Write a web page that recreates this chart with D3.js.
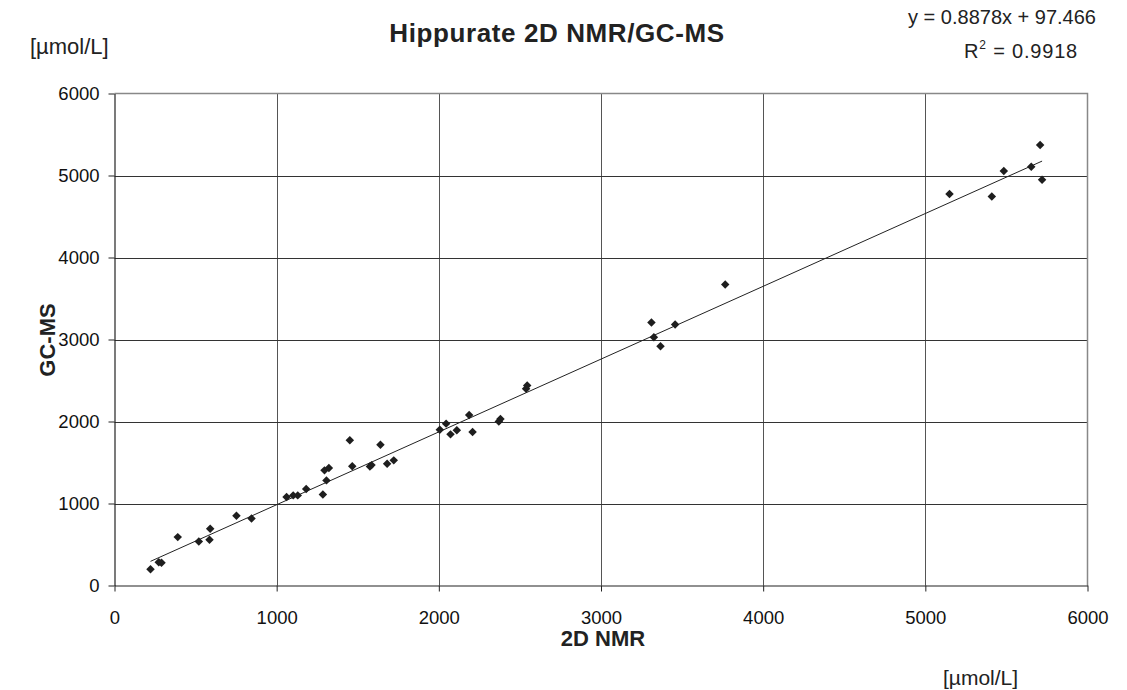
<!DOCTYPE html>
<html>
<head>
<meta charset="utf-8">
<script src="https://cdn.jsdelivr.net/npm/d3@7/dist/d3.min.js"></script>
<style>
  html, body { margin: 0; padding: 0; background: #fff; }
  svg { display: block; font-family: "Liberation Sans", Arial, sans-serif; }
</style>
</head>
<body>
<svg id="chart" width="1127" height="690"></svg>
<script>
// Hippurate concentrations: 2D NMR (x) vs GC-MS (y), µmol/L
const nmr = [222, 273, 290, 390, 520, 586, 590, 752, 845, 1061, 1102, 1130, 1182, 1285,
  1295, 1322, 1307, 1451, 1466, 1575, 1585, 1640, 1681, 1722, 2006, 2045, 2072, 2111,
  2187, 2208, 2370, 2380, 2538, 2545, 3311, 3326, 3367, 3457, 3766, 5149, 5410, 5484,
  5653, 5708, 5720];
const gcms = [199, 284, 277, 590, 537, 558, 692, 851, 818, 1078, 1099, 1099, 1176, 1111,
  1404, 1432, 1282, 1770, 1453, 1450, 1468, 1717, 1485, 1526, 1900, 1974, 1843, 1892,
  2079, 1871, 2000, 2030, 2400, 2440, 3207, 3027, 2917, 3182, 3670, 4773, 4745, 5054,
  5107, 5371, 4948];

// Linear trend line
const slope = 0.8878;
const intercept = 97.466;
const rSquared = 0.9918;

const xTicks = [0, 1000, 2000, 3000, 4000, 5000, 6000];
const yTicks = [0, 1000, 2000, 3000, 4000, 5000, 6000];

const svg = d3.select("#chart");
const plot = { left: 114.5, right: 1087.5, top: 93.5, bottom: 585.5 };

const x = d3.scaleLinear().domain([0, 6000]).range([plot.left, plot.right]);
const y = d3.scaleLinear().domain([0, 6000]).range([plot.bottom, plot.top]);

// Gridlines
svg.append("g").selectAll("line.v").data(xTicks.slice(1, -1)).join("line")
  .attr("x1", d => Math.round(x(d)) + 0.5).attr("x2", d => Math.round(x(d)) + 0.5)
  .attr("y1", plot.top).attr("y2", plot.bottom)
  .attr("stroke", "#555").attr("stroke-width", 1);
svg.append("g").selectAll("line.h").data(yTicks.slice(1, -1)).join("line")
  .attr("y1", d => Math.round(y(d)) + 0.5).attr("y2", d => Math.round(y(d)) + 0.5)
  .attr("x1", plot.left).attr("x2", plot.right)
  .attr("stroke", "#333").attr("stroke-width", 1);

// Plot frame (top and right)
svg.append("path")
  .attr("d", `M${plot.left},${plot.top}H${plot.right}V${plot.bottom}`)
  .attr("fill", "none").attr("stroke", "#888").attr("stroke-width", 1.5);

// Axes
const xAxis = svg.append("g")
  .attr("transform", `translate(0,${plot.bottom})`)
  .call(d3.axisBottom(x).tickValues(xTicks).tickSize(6).tickSizeOuter(0).tickPadding(16)
    .tickFormat(d3.format("d")));
const yAxis = svg.append("g")
  .attr("transform", `translate(${plot.left},0)`)
  .call(d3.axisLeft(y).tickValues(yTicks).tickSize(6).tickSizeOuter(0).tickPadding(9)
    .tickFormat(d3.format("d")));
[xAxis, yAxis].forEach(g => {
  g.select(".domain").attr("stroke", "#222").attr("stroke-width", 1.2);
  g.selectAll(".tick line").attr("stroke", "#222");
  g.selectAll(".tick text").attr("font-size", 18.5).attr("fill", "#111")
    .attr("font-family", "Liberation Sans, Arial, sans-serif");
});
xAxis.selectAll(".tick text").attr("dy", "0.9em");

// Trend line across the measured range
const xMin = d3.min(nmr), xMax = d3.max(nmr);
svg.append("line")
  .attr("x1", x(xMin)).attr("y1", y(slope * xMin + intercept))
  .attr("x2", x(xMax)).attr("y2", y(slope * xMax + intercept))
  .attr("stroke", "#222").attr("stroke-width", 1);

// Diamond markers
const pts = nmr.map((v, i) => [v, gcms[i]]);
svg.append("g").selectAll("path").data(pts).join("path")
  .attr("d", d3.symbol(d3.symbolSquare, 36)())
  .attr("transform", d => `translate(${x(d[0])},${y(d[1])}) rotate(45)`)
  .attr("fill", "#1e1e1e");

// Titles and labels
svg.append("text").attr("x", 557).attr("y", 42).attr("text-anchor", "middle")
  .attr("font-size", 26).attr("font-weight", "bold").attr("fill", "#222")
  .attr("letter-spacing", 0.6)
  .text("Hippurate 2D NMR/GC-MS");

svg.append("text").attr("x", 1096).attr("y", 24).attr("text-anchor", "end")
  .attr("font-size", 20).attr("fill", "#222")
  .text(`y = ${slope}x + ${intercept}`);
const r2 = svg.append("text").attr("x", 1078).attr("y", 58).attr("text-anchor", "end")
  .attr("font-size", 20).attr("letter-spacing", 0.8).attr("fill", "#222");
r2.append("tspan").text("R");
r2.append("tspan").attr("font-size", 12).attr("dy", -9).text("2");
r2.append("tspan").attr("dy", 9).text(` = ${rSquared}`);

svg.append("text").attr("x", 30).attr("y", 54).attr("font-size", 22).attr("fill", "#222")
  .text("[µmol/L]");
svg.append("text").attr("x", 943).attr("y", 685).attr("font-size", 21).attr("fill", "#222")
  .text("[µmol/L]");

svg.append("text").attr("x", 603).attr("y", 646).attr("text-anchor", "middle")
  .attr("font-size", 22).attr("font-weight", "bold").attr("fill", "#222")
  .text("2D NMR");
svg.append("text").attr("transform", `translate(55,340) rotate(-90)`)
  .attr("text-anchor", "middle")
  .attr("font-size", 22).attr("font-weight", "bold").attr("fill", "#222")
  .text("GC-MS");
</script>
</body>
</html>
